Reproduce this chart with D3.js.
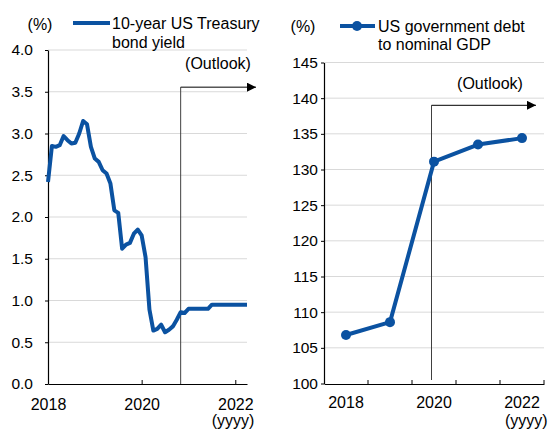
<!DOCTYPE html>
<html><head><meta charset="utf-8">
<script src="https://cdn.jsdelivr.net/npm/d3@7"></script>
<style>body{margin:0;background:#fff}svg{display:block;font-family:"Liberation Sans",Arial,sans-serif}</style>
</head><body><svg id="c" width="551" height="432"></svg>
<script>
// Left: 10-year US Treasury yield, monthly from Jan 2018 (month index 0)
const yieldValues = [2.42,2.85,2.84,2.86,2.97,2.92,2.88,2.89,3.00,3.15,3.11,2.84,
  2.70,2.66,2.56,2.52,2.40,2.08,2.05,1.62,1.67,1.69,1.80,1.85,
  1.78,1.52,0.89,0.64,0.66,0.71,0.62,0.65,0.69,0.77,0.86,0.85,
  0.90,0.90,0.90,0.90,0.90,0.90,0.95,0.95,0.95,0.95,0.95,0.95,
  0.95,0.95,0.95,0.95];
const yieldStartYear = 2018;
const yieldTicksY = [0,0.5,1,1.5,2,2.5,3,3.5,4];
const yieldTicksX = [2018,2020,2022];
const yieldOutlookMonth = 34;
// Right: US government debt to nominal GDP
const debtYears = ["2018","2019","2020","2021","2022"];
const debtValues = [106.8,108.6,131.1,133.5,134.4];
const debtTicksY = [100,105,110,115,120,125,130,135,140,145];
const debtTickLabelsX = ["2018","2020","2022"];

const blue = "#0b52a1", grid = "#d9d9d9", fs = "16px";
const svg = d3.select("#c");
const defs = svg.append("defs");
defs.append("marker").attr("id","arr").attr("viewBox","0 0 10 10").attr("refX",10).attr("refY",5)
  .attr("markerWidth",11).attr("markerHeight",9).attr("markerUnits","userSpaceOnUse").attr("orient","auto")
  .append("path").attr("d","M0,0L10,5L0,10Z").attr("fill","#000");

// ---------- Left chart ----------
const xL = d3.scaleLinear().domain([2018, 2022.25]).range([48, 247]);
const yL = d3.scaleLinear().domain([0, 4]).range([384, 50]);
const gL = svg.append("g");
gL.selectAll("line.g").data(yieldTicksY.slice(1)).join("line")
  .attr("x1",48).attr("x2",247).attr("y1",d=>yL(d)).attr("y2",d=>yL(d)).attr("stroke",grid);
const axYL = gL.append("g").attr("transform","translate(48,0)")
  .call(d3.axisLeft(yL).tickValues(yieldTicksY).tickFormat(d3.format(".1f")).tickSize(3).tickSizeOuter(0).tickPadding(12));
const axXL = gL.append("g").attr("transform","translate(0,384)")
  .call(d3.axisBottom(xL).tickValues(yieldTicksX).tickFormat(d3.format("d")).tickSize(-4).tickSizeOuter(0).tickPadding(15));
axXL.selectAll(".tick").filter(d=>d===2018).select("line").remove();
[axYL, axXL].forEach(a=>{a.select(".domain").attr("stroke","#000").attr("stroke-width",1.2);
  a.selectAll("line").attr("stroke","#000");
  a.selectAll("text").attr("font-size", fs).attr("fill","#000").attr("font-family","Liberation Sans, Arial");});
axYL.selectAll("text").attr("font-size","15.5px");
const xo = xL(yieldStartYear + yieldOutlookMonth/12), yTopL = yL(3.555);
gL.append("line").attr("x1",xo).attr("x2",xo).attr("y1",384).attr("y2",yTopL).attr("stroke","#404040");
gL.append("line").attr("x1",xo).attr("x2",256).attr("y1",yTopL).attr("y2",yTopL).attr("stroke","#000").attr("marker-end","url(#arr)");
gL.append("text").attr("x",218).attr("y",69).attr("text-anchor","middle").attr("font-size",fs).text("(Outlook)");
gL.append("path").datum(yieldValues)
  .attr("d", d3.line().x((d,i)=>xL(yieldStartYear + i/12)).y(d=>yL(d)))
  .attr("fill","none").attr("stroke",blue).attr("stroke-width",4).attr("stroke-linejoin","round");
gL.append("text").attr("x",40).attr("y",30).attr("text-anchor","middle").attr("font-size",fs).text("(%)");
gL.append("line").attr("x1",73).attr("x2",110).attr("y1",23).attr("y2",23).attr("stroke",blue).attr("stroke-width",4);
gL.append("text").attr("x",112).attr("y",29).attr("font-size",fs).text("10-year US Treasury");
gL.append("text").attr("x",112).attr("y",48).attr("font-size",fs).text("bond yield");
gL.append("text").attr("x",233).attr("y",426).attr("text-anchor","middle").attr("font-size",fs).text("(yyyy)");

// ---------- Right chart ----------
const xR = d3.scaleBand().domain(debtYears).range([324, 544]);
const yR = d3.scaleLinear().domain([100, 145]).range([383.5, 62.5]);
const gR = svg.append("g");
gR.selectAll("line.g").data(debtTicksY.slice(1)).join("line")
  .attr("x1",324).attr("x2",544).attr("y1",d=>yR(d)).attr("y2",d=>yR(d)).attr("stroke",grid);
const axYR = gR.append("g").attr("transform","translate(324,0)")
  .call(d3.axisLeft(yR).tickValues(debtTicksY).tickSize(3).tickSizeOuter(0).tickPadding(3));
const axXR = gR.append("g").attr("transform","translate(0,384)")
  .call(d3.axisBottom(xR).tickValues(debtTickLabelsX).tickSize(0).tickSizeOuter(0).tickPadding(13));
axXR.selectAll(".bt").data(debtYears).join("line").attr("class","bt")
  .attr("x1",d=>xR(d)+xR.bandwidth()).attr("x2",d=>xR(d)+xR.bandwidth()).attr("y1",0).attr("y2",-4).attr("stroke","#000");
[axYR, axXR].forEach(a=>{a.select(".domain").attr("stroke","#000").attr("stroke-width",1.2);
  a.selectAll("line").attr("stroke","#000");
  a.selectAll("text").attr("font-size", fs).attr("fill","#000").attr("font-family","Liberation Sans, Arial");});
axYR.selectAll("text").attr("font-size","15.5px");
const xoR = xR("2020") + xR.bandwidth()/2 - 2.5, yTopR = yR(139);
gR.append("line").attr("x1",xoR).attr("x2",xoR).attr("y1",380).attr("y2",yTopR).attr("stroke","#404040");
gR.append("line").attr("x1",xoR).attr("x2",536).attr("y1",yTopR).attr("y2",yTopR).attr("stroke","#000").attr("marker-end","url(#arr)");
gR.append("text").attr("x",490).attr("y",89).attr("text-anchor","middle").attr("font-size",fs).text("(Outlook)");
const cx = d=>xR(d)+xR.bandwidth()/2;
gR.append("path").datum(debtYears)
  .attr("d", d3.line().x(d=>cx(d)).y((d,i)=>yR(debtValues[i])))
  .attr("fill","none").attr("stroke",blue).attr("stroke-width",4).attr("stroke-linejoin","round");
gR.selectAll("circle.p").data(debtYears).join("circle").attr("class","p")
  .attr("cx",d=>cx(d)).attr("cy",(d,i)=>yR(debtValues[i])).attr("r",5).attr("fill",blue);
gR.append("text").attr("x",303).attr("y",32).attr("text-anchor","middle").attr("font-size",fs).text("(%)");
gR.append("line").attr("x1",340).attr("x2",375).attr("y1",26).attr("y2",26).attr("stroke",blue).attr("stroke-width",4);
gR.append("circle").attr("cx",357).attr("cy",26).attr("r",5).attr("fill",blue);
gR.append("text").attr("x",378).attr("y",32).attr("font-size",fs).text("US government debt");
gR.append("text").attr("x",378).attr("y",50).attr("font-size",fs).text("to nominal GDP");
gR.append("text").attr("x",505).attr("y",426).attr("font-size",fs).text("(yyyy)");
</script></body></html>
